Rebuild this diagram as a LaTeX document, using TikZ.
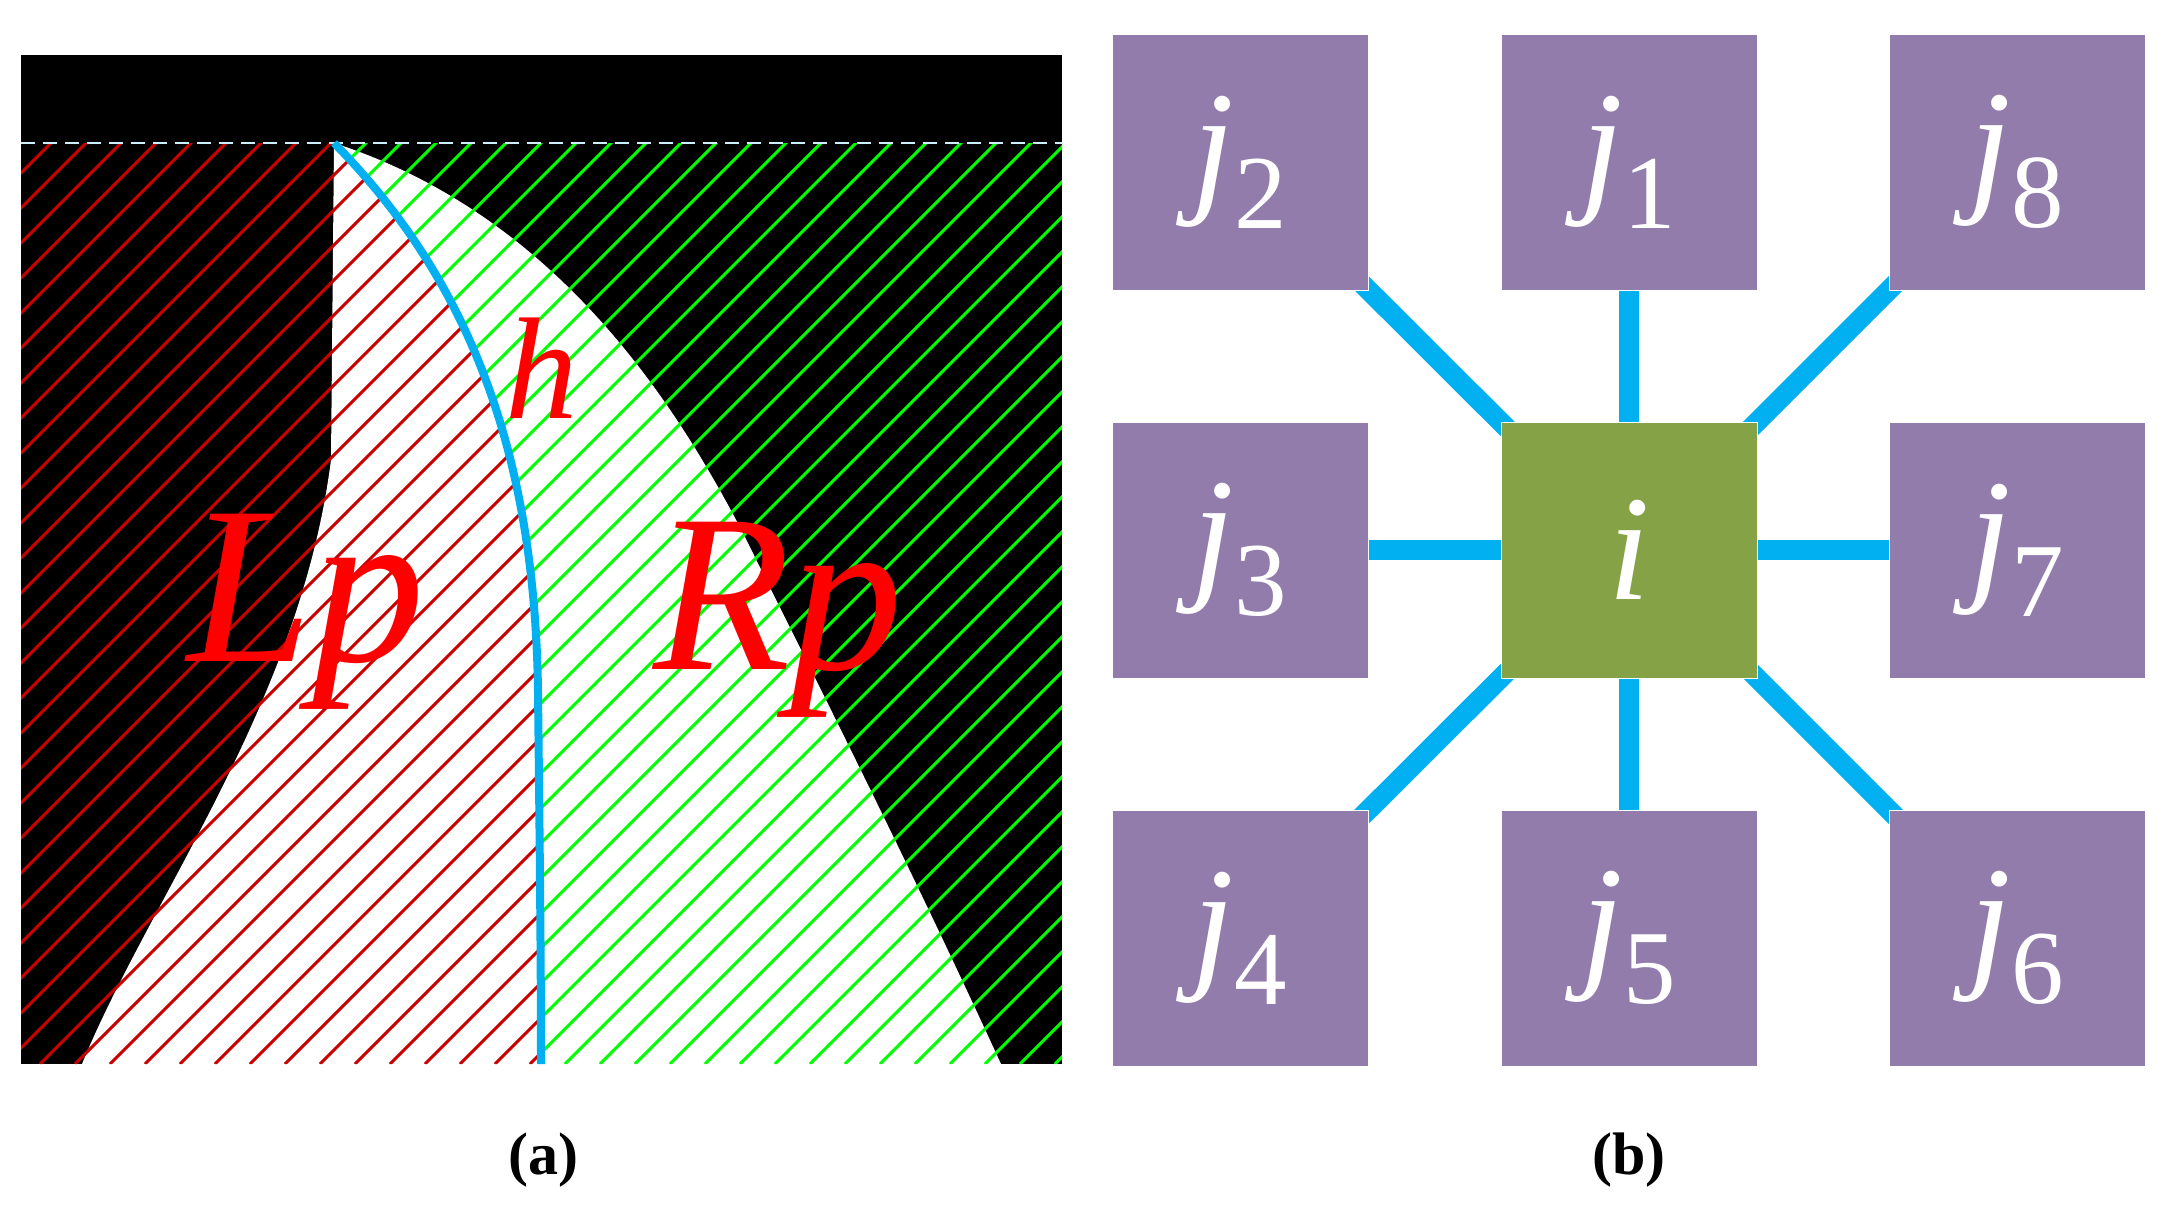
\documentclass[tikz,border=0pt]{standalone}
\usepackage{fontspec}
\setmainfont{Liberation Serif}
\usetikzlibrary{backgrounds}
\definecolor{pur}{RGB}{145,124,172}
\definecolor{grn}{RGB}{133,163,70}
\definecolor{cy}{RGB}{0,176,240}
\definecolor{dred}{RGB}{200,0,0}
\definecolor{lgrn}{RGB}{0,255,0}
\newcommand{\jj}[1]{{\itshape j}\raisebox{-0.22em}{\fontsize{105}{105}\selectfont #1}}
\tikzset{
  box/.style={draw=white,line width=1pt,minimum size=256pt,inner sep=0pt,text=white,font=\fontsize{150}{150}\selectfont},
  conn/.style={cy,line width=20pt},
  hatch/.style={line width=3pt},
  captext/.style={font=\bfseries\fontsize{60}{60}\selectfont}
}
\def\bluecurve{(334,143) .. controls (470,281) and (535,454) .. (538,692) .. controls (540,866) and (541,974) .. (541,1064)}
\begin{document}
\begin{tikzpicture}[x=1pt,y=-1pt]
\useasboundingbox (0,0) rectangle (2169,1205);
% panel a
\fill[black] (21,55) rectangle (1062,1064);
\fill[white] (334,143) -- (331,460) .. controls (300,703) and (150,898) .. (82,1064) -- (1001,1064) .. controls (900,844) and (800,649) .. (745,537) .. controls (680,411) and (560,216) .. cycle;
\begin{scope}
\clip (21,143) -- \bluecurve -- (21,1064) -- cycle;
\foreach \k in {-1150,-1115,...,1100} \draw[hatch,dred] (\k,1064) -- ++(1100,-1100);
\end{scope}
\begin{scope}
\clip (1062,143) -- \bluecurve -- (1062,1064) -- cycle;
\foreach \k in {-1150,-1115,...,1100} \draw[hatch,lgrn] (\k,1064) -- ++(1100,-1100);
\end{scope}
\draw[line width=2.5pt,white!80!cy,dash pattern=on 14pt off 8pt] (21,143) -- (1062,143);
\draw[cy,line width=8pt] \bluecurve;
\node[text=red,font=\itshape\fontsize{225}{225}\selectfont] (lp) at (306,612) {Lp};
\node[text=red,font=\itshape\fontsize{225}{225}\selectfont] (rp) at (778,620) {Rp};
\node[text=red,font=\itshape\fontsize{145}{145}\selectfont] (h) at (542,368) {h};
\node[captext] (ca) at (543,1160) {(a)};
% panel b
\node[box,fill=pur] (j2) at (1240,162) {\jj{2}};
\node[box,fill=pur] (j1) at (1629,162) {\jj{1}};
\node[box,fill=pur] (j8) at (2017,162) {\jj{8}};
\node[box,fill=pur] (j3) at (1240,550) {\jj{3}};
\node[box,fill=grn] (i) at (1629,550) {\itshape i};
\node[box,fill=pur] (j7) at (2017,550) {\jj{7}};
\node[box,fill=pur] (j4) at (1240,938) {\jj{4}};
\node[box,fill=pur] (j5) at (1629,938) {\jj{5}};
\node[box,fill=pur] (j6) at (2017,938) {\jj{6}};
\begin{pgfonlayer}{background}
\foreach \n in {j1,j2,j3,j4,j5,j6,j7,j8} \draw[conn] (i.center) -- (\n.center);
\end{pgfonlayer}
\node[captext] (cb) at (1629,1160) {(b)};
\end{tikzpicture}
\end{document}
